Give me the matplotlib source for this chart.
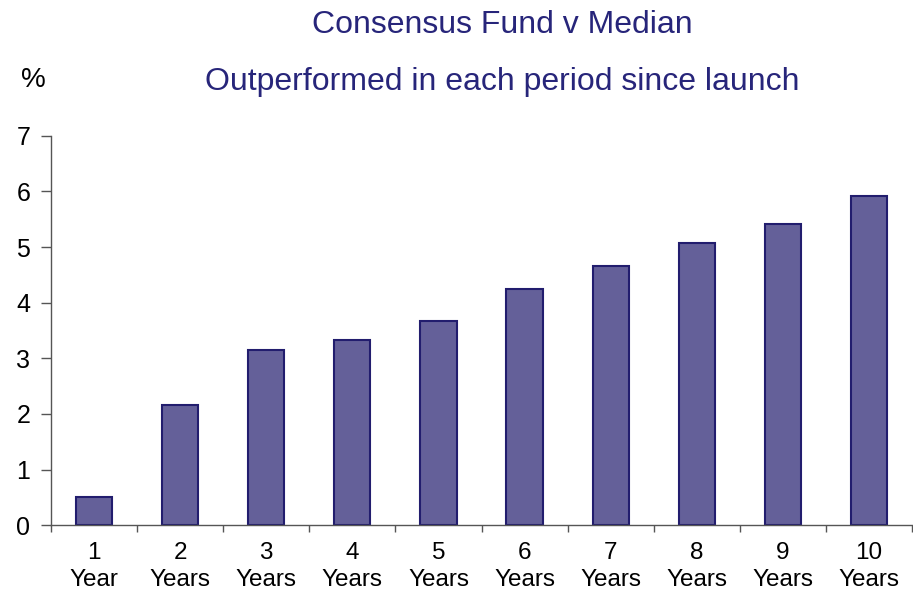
import numpy as np
import matplotlib.pyplot as plt

plt.rcParams['font.family'] = ['Liberation Sans', 'DejaVu Sans']

# data
periods = ['1\nYear', '2\nYears', '3\nYears', '4\nYears', '5\nYears',
           '6\nYears', '7\nYears', '8\nYears', '9\nYears', '10\nYears']
values = [0.50, 2.16, 3.15, 3.33, 3.67, 4.25, 4.66, 5.07, 5.42, 5.92]

fig = plt.figure(figsize=(9.13, 5.92), dpi=100)
ax = fig.add_axes([51 / 913, 1 - 525.3 / 592, 861 / 913, (525.3 - 135.7) / 592])

x = np.arange(len(values))
ax.bar(x, values, width=0.42, color='#646099', edgecolor='#221d6e', linewidth=1.5)

ax.set_xlim(-0.5, len(values) - 0.5)
ax.set_ylim(0, 7)
ax.set_yticks(range(0, 8))
ax.tick_params(axis='y', labelsize=18, length=7, width=1, color='#555555', pad=8)

# category boundary ticks, labels centred in each category
ax.set_xticks(np.arange(len(values) + 1) - 0.5)
ax.set_xticklabels([])
ax.set_xticks(x, minor=True)
ax.set_xticklabels(periods, minor=True, fontsize=17.5, linespacing=1.3)
ax.tick_params(axis='x', which='major', length=5, width=1, color='#555555')
ax.tick_params(axis='x', which='minor', length=0, pad=12)

for s in ['top', 'right']:
    ax.spines[s].set_visible(False)
for s in ['left', 'bottom']:
    ax.spines[s].set_color('#555555')
    ax.spines[s].set_linewidth(1)

title_color = '#27257a'
fig.text(502 / 913, 1 - 25 / 592, 'Consensus Fund v Median', ha='center', va='center',
         fontsize=23, color=title_color)
fig.text(502 / 913, 1 - 82 / 592, 'Outperformed in each period since launch', ha='center',
         va='center', fontsize=23, color=title_color)
fig.text(33 / 913, 1 - 80 / 592, '%', ha='center', va='center', fontsize=20, color='black')

fig.savefig('out.png', dpi=100)
